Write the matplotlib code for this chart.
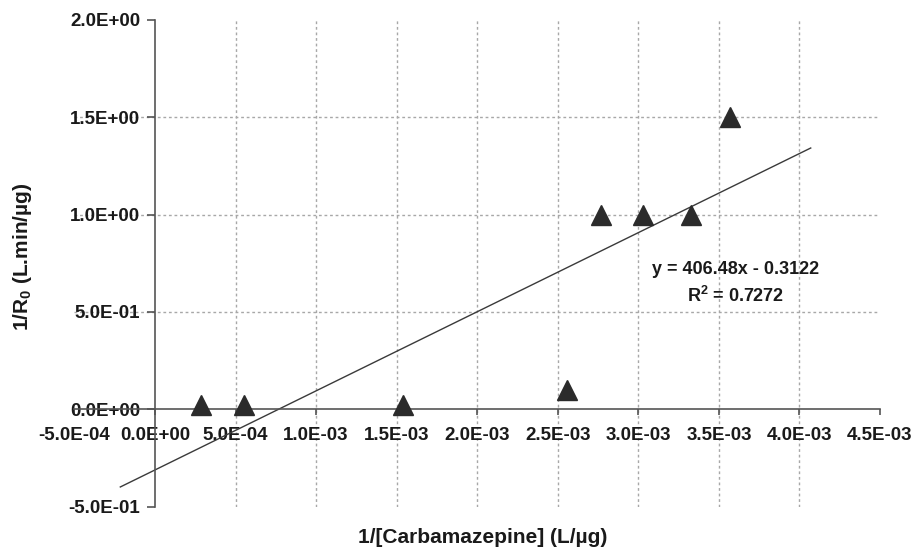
import numpy as np
import matplotlib
matplotlib.use('Agg')
import matplotlib.pyplot as plt
from matplotlib.ticker import FuncFormatter

plt.rcParams['font.family'] = ['Liberation Sans', 'DejaVu Sans']
plt.rcParams['font.weight'] = 'bold'
plt.rcParams['mathtext.fontset'] = 'custom'
plt.rcParams['mathtext.rm'] = 'Liberation Sans:bold'
plt.rcParams['mathtext.bf'] = 'Liberation Sans:bold'
plt.rcParams['mathtext.default'] = 'bf'

# inverse carbamazepine concentration (L/ug) vs inverse initial rate
inv_conc = [2.85e-4, 5.5e-4, 1.54e-3, 2.56e-3, 2.77e-3, 3.03e-3, 3.33e-3, 3.57e-3]
inv_rate = [0.02, 0.02, 0.02, 0.10, 1.0, 1.0, 1.0, 1.5]

# Excel-style linear trendline, as printed on the chart
slope = 406.48
intercept = -0.3122
forecast = 5e-4  # forward / backward extension of the trendline

xticks = np.arange(-5e-4, 4.5e-3 + 1e-9, 5e-4)
yticks = np.arange(-0.5, 2.0 + 1e-9, 0.5)


def sci(v, pos=None):
    s = '%.1E' % v
    if abs(v) < 1e-12:
        s = '0.0E+00'
    return s


fig = plt.figure(figsize=(9.14, 5.49), dpi=100)
ax = fig.add_axes([0.0814, 0.0774, 0.8814, 0.8862])

ax.set_xlim(-5e-4, 4.5e-3)
ax.set_ylim(-0.5, 2.0)

# grid (only inner ticks, like the original)
for xv in xticks[2:-1]:
    ax.axvline(xv, color='#a8a8a8', lw=1.0, ls=(0, (2, 2)), zorder=0)
for yv in yticks[2:-1]:
    ax.axhline(yv, color='#a8a8a8', lw=1.0, ls=(0, (2, 2)), zorder=0)

# trendline
xl = np.array([min(inv_conc) - forecast, max(inv_conc) + forecast])
ax.plot(xl, slope * xl + intercept, color='#3a3a3a', lw=1.0, zorder=2)

ax.plot(inv_conc, inv_rate, '^', ms=14, color='#2b2b2b', mec='#2b2b2b', zorder=3, clip_on=False)

# axis trickery: cross at the origin
ax.spines['left'].set_position(('data', 0))
ax.spines['bottom'].set_position(('data', 0))
ax.spines['top'].set_color('none')
ax.spines['right'].set_color('none')
for sp in ('left', 'bottom'):
    ax.spines[sp].set_color('#555555')
    ax.spines[sp].set_linewidth(1.2)

ax.set_xticks(xticks)
ax.set_yticks(yticks)
ax.xaxis.set_major_formatter(FuncFormatter(sci))
ax.yaxis.set_major_formatter(FuncFormatter(sci))
ax.tick_params(axis='both', direction='out', width=1.2, color='#555555',
               labelsize=13.5, labelcolor='#1a1a1a')
ax.tick_params(axis='x', length=4, pad=9)
ax.tick_params(axis='y', length=5.5, pad=5)

ax.text(3.604e-3, 0.718, 'y = 406.48x - 0.3122', ha='center', va='center',
        fontsize=13, fontweight='bold', color='#1a1a1a')
ax.text(3.604e-3, 0.58, 'R$^2$ = 0.7272', ha='center', va='center',
        fontsize=13, fontweight='bold', color='#1a1a1a')

ax.set_xlabel('1/[Carbamazepine] (L/µg)', fontsize=15, fontweight='bold',
              color='#1a1a1a', va='center')
ax.xaxis.set_label_coords(0.507, -0.0627)
ax.set_ylabel('1/R$_0$ (L.min/µg)', fontsize=15, fontweight='bold',
              color='#1a1a1a', va='center', ha='center')
ax.yaxis.set_label_coords(-0.065, 0.513)

fig.savefig('out.png', dpi=100)
